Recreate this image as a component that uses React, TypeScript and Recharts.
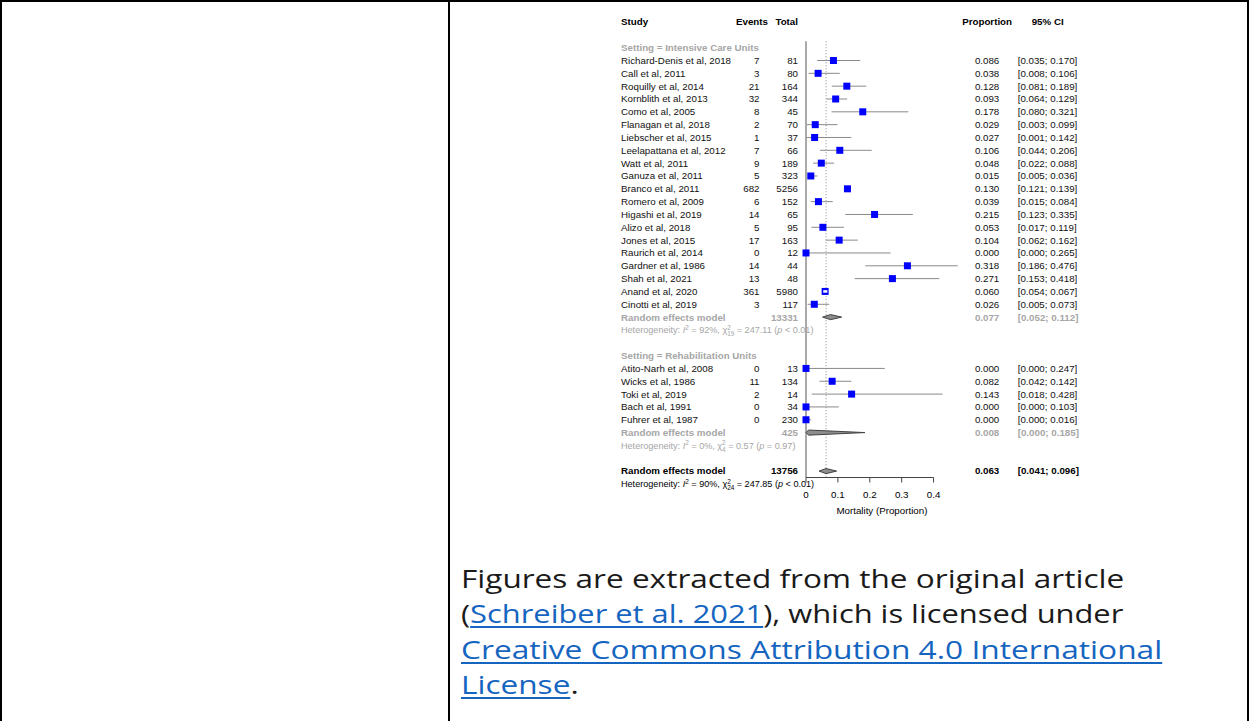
import React from "react";
import { ComposedChart, Scatter, XAxis, YAxis, ReferenceLine } from "recharts";

// ICU subgroup
const icuStudies = [
  "Richard-Denis et al, 2018", "Call et al, 2011", "Roquilly et al, 2014", "Kornblith et al, 2013",
  "Como et al, 2005", "Flanagan et al, 2018", "Liebscher et al, 2015", "Leelapattana et al, 2012",
  "Watt et al, 2011", "Ganuza et al, 2011", "Branco et al, 2011", "Romero et al, 2009",
  "Higashi et al, 2019", "Alizo et al, 2018", "Jones et al, 2015", "Raurich et al, 2014",
  "Gardner et al, 1986", "Shah et al, 2021", "Anand et al, 2020", "Cinotti et al, 2019",
];
const icuEvents = [7, 3, 21, 32, 8, 2, 1, 7, 9, 5, 682, 6, 14, 5, 17, 0, 14, 13, 361, 3];
const icuTotals = [81, 80, 164, 344, 45, 70, 37, 66, 189, 323, 5256, 152, 65, 95, 163, 12, 44, 48, 5980, 117];
const icuProportion = [0.086, 0.038, 0.128, 0.093, 0.178, 0.029, 0.027, 0.106, 0.048, 0.015, 0.13, 0.039, 0.215, 0.053, 0.104, 0.0, 0.318, 0.271, 0.06, 0.026];
const icuLower = [0.035, 0.008, 0.081, 0.064, 0.08, 0.003, 0.001, 0.044, 0.022, 0.005, 0.121, 0.015, 0.123, 0.017, 0.062, 0.0, 0.186, 0.153, 0.054, 0.005];
const icuUpper = [0.17, 0.106, 0.189, 0.129, 0.321, 0.099, 0.142, 0.206, 0.088, 0.036, 0.139, 0.084, 0.335, 0.119, 0.162, 0.265, 0.476, 0.418, 0.067, 0.073];

// Rehabilitation subgroup
const rehabStudies = ["Atito-Narh et al, 2008", "Wicks et al, 1986", "Toki et al, 2019", "Bach et al, 1991", "Fuhrer et al, 1987"];
const rehabEvents = [0, 11, 2, 0, 0];
const rehabTotals = [13, 134, 14, 34, 230];
const rehabProportion = [0.0, 0.082, 0.143, 0.0, 0.0];
const rehabLower = [0.0, 0.042, 0.018, 0.0, 0.0];
const rehabUpper = [0.247, 0.142, 0.428, 0.103, 0.016];

// pooled: ICU, rehab, overall
const groupNames = ["Setting = Intensive Care Units", "Setting = Rehabilitation Units"];
const pooledLabel = "Random effects model";
const pooledTotals = [13331, 425, 13756];
const pooledEstimate = [0.077, 0.008, 0.063];
const pooledLower = [0.052, 0.0, 0.041];
const pooledUpper = [0.112, 0.185, 0.096];
const hetI2 = ["92%", "0%", "90%"];
const hetDf = ["19", "4", "24"];
const hetQ = ["247.11", "0.57", "247.85"];
const hetP = ["< 0.01", "= 0.97", "< 0.01"];

const xTicks = [0, 0.1, 0.2, 0.3, 0.4];

const FONT = '"Liberation Sans", Arial, Helvetica, sans-serif';
const GREY = "#a6a6a6";
const ROW_PX = 12.83;
const SQUARE = 7;
// column anchors (svg px)
const COL = { study: 9, events: 147.5, eventsHead: 156, total: 186, prop: 387.3, propHead: 400, ci: 405.7, ciHead: 419.7 };

const groups = [
  { names: icuStudies, events: icuEvents, totals: icuTotals, prop: icuProportion, lo: icuLower, hi: icuUpper },
  { names: rehabStudies, events: rehabEvents, totals: rehabTotals, prop: rehabProportion, lo: rehabLower, hi: rehabUpper },
];

type Row = { x: number; y: number; kind: string; g: number; i: number };
type Pt = { x: number; y: number; lo: number; hi: number; inside: boolean };
const rows: Row[] = [{ x: 0, y: 0, kind: "header", g: 0, i: 0 }];
const studyPts: Pt[] = [];
const pooledRow: number[] = [];
let k = 2;
groups.forEach((grp, gi) => {
  rows.push({ x: 0, y: k, kind: "group", g: gi, i: 0 });
  k++;
  grp.names.forEach((_, j) => {
    rows.push({ x: 0, y: k, kind: "study", g: gi, i: j });
    // very narrow CI sits inside the square -> drawn white
    studyPts.push({ x: grp.prop[j], y: k, lo: grp.lo[j], hi: grp.hi[j], inside: grp.hi[j] - grp.lo[j] < 0.015 });
    k++;
  });
  rows.push({ x: 0, y: k, kind: "pooled", g: gi, i: gi });
  pooledRow.push(k);
  k += 3;
});
rows.push({ x: 0, y: k, kind: "pooled", g: 2, i: 2 });
pooledRow.push(k);

const ciLine = (p: Pt) => [
  { x: p.lo, y: p.y },
  { x: p.hi, y: p.y },
];

const diamond = (i: number) => {
  const h = 0.2;
  const y = pooledRow[i];
  return [
    { x: pooledLower[i], y },
    { x: pooledEstimate[i], y: y - h },
    { x: pooledUpper[i], y },
    { x: pooledEstimate[i], y: y + h },
    { x: pooledLower[i], y },
  ];
};

const ci = (lo: number, hi: number) => `[${lo.toFixed(3)}; ${hi.toFixed(3)}]`;

function Het({ i, y, color }: { i: number; y: number; color: string }) {
  return (
    <text x={COL.study} y={y} dy="0.35em" fontSize={9.1} fill={color} fontFamily={FONT}>
      {"Heterogeneity: "}
      <tspan fontStyle="italic">I</tspan>
      <tspan dy={-3.3} fontSize={6.4}>2</tspan>
      <tspan dy={3.3}>{` = ${hetI2[i]}, \u03C7`}</tspan>
      <tspan dy={-3.3} fontSize={6.4}>2</tspan>
      <tspan dx={-3.6} dy={6.2} fontSize={6.4}>{hetDf[i]}</tspan>
      <tspan dy={-2.9}>{` = ${hetQ[i]} (`}</tspan>
      <tspan fontStyle="italic">p</tspan>
      <tspan>{` ${hetP[i]})`}</tspan>
    </text>
  );
}

function RowText(props: any) {
  const { cy, payload } = props;
  const r: Row = payload;
  const t = { fontFamily: FONT, fontSize: 9.75, dy: "0.35em", y: cy };
  if (r.kind === "header") {
    return (
      <g fontWeight="bold">
        <text {...t} x={COL.study}>Study</text>
        <text {...t} x={COL.eventsHead} textAnchor="end">Events</text>
        <text {...t} x={COL.total} textAnchor="end">Total</text>
        <text {...t} x={COL.propHead} textAnchor="end">Proportion</text>
        <text {...t} x={COL.ciHead}>95% CI</text>
      </g>
    );
  }
  if (r.kind === "group") {
    return (
      <text {...t} x={COL.study} fontWeight="bold" fill={GREY}>{groupNames[r.g]}</text>
    );
  }
  if (r.kind === "study") {
    const grp = groups[r.g];
    const j = r.i;
    return (
      <g fill="#111">
        <text {...t} x={COL.study}>{grp.names[j]}</text>
        <text {...t} x={COL.events} textAnchor="end">{grp.events[j]}</text>
        <text {...t} x={COL.total} textAnchor="end">{grp.totals[j]}</text>
        <text {...t} x={COL.prop} textAnchor="end">{grp.prop[j].toFixed(3)}</text>
        <text {...t} x={COL.ci}>{ci(grp.lo[j], grp.hi[j])}</text>
      </g>
    );
  }
  const i = r.i;
  const color = i === 2 ? "#000" : GREY;
  return (
    <g>
      <g fontWeight="bold" fill={color}>
        <text {...t} x={COL.study}>{pooledLabel}</text>
        <text {...t} x={COL.total} textAnchor="end">{pooledTotals[i]}</text>
        <text {...t} x={COL.prop} textAnchor="end">{pooledEstimate[i].toFixed(3)}</text>
        <text {...t} x={COL.ci}>{ci(pooledLower[i], pooledUpper[i])}</text>
      </g>
      <Het i={i} y={cy + ROW_PX} color={color} />
    </g>
  );
}

const Square = (props: any) => {
  const { cx, cy } = props;
  return <rect x={cx - SQUARE / 2} y={cy - SQUARE / 2} width={SQUARE} height={SQUARE} fill="#0000ff" />;
};

const Empty = () => <g />;

function ForestPlot() {
  const yTop = 1.5;
  const yAxisRow = 35.5;
  return (
    <ComposedChart width={480} height={525} margin={{ top: 9.17, right: 134.2, bottom: 11.5, left: 194 }}>
      <XAxis
        type="number"
        dataKey="x"
        domain={[0, 0.476]}
        ticks={xTicks}
        axisLine={false}
        tickLine={{ stroke: "#444" }}
        tickSize={5}
        tickMargin={9}
        height={36}
        interval={0}
        tick={{ fontSize: 9.75, fill: "#000", fontFamily: FONT }}
        label={{ value: "Mortality (Proportion)", position: "insideBottom", offset: 0, fontSize: 9.75, fill: "#000", fontFamily: FONT }}
      />
      <YAxis type="number" dataKey="y" domain={[-1, yAxisRow]} reversed hide />
      <ReferenceLine segment={[{ x: 0, y: yAxisRow }, { x: xTicks[xTicks.length - 1], y: yAxisRow }]} stroke="#444" />
      <ReferenceLine segment={[{ x: 0, y: yTop }, { x: 0, y: yAxisRow }]} stroke="#555" />
      <ReferenceLine
        segment={[{ x: pooledEstimate[2], y: yTop }, { x: pooledEstimate[2], y: yAxisRow }]}
        stroke="#888"
        strokeDasharray="1 2"
      />
      <Scatter data={rows} shape={RowText} isAnimationActive={false} />
      {studyPts.map((p, i) => (
        <Scatter
          key={`ci${i}`}
          data={ciLine(p)}
          shape={Empty}
          line={{ stroke: "#8a8a8a", strokeWidth: 1 }}
          isAnimationActive={false}
        />
      ))}
      <Scatter data={studyPts} shape={Square} isAnimationActive={false} />
      {studyPts.filter((p) => p.inside).map((p, i) => (
        <Scatter
          key={`in${i}`}
          data={ciLine(p)}
          shape={Empty}
          line={{ stroke: "#ffffff", strokeWidth: 2.5 }}
          isAnimationActive={false}
        />
      ))}
      {[0, 1, 2].map((i) => (
        <Scatter
          key={`d${i}`}
          data={diamond(i)}
          shape={Empty}
          line={{ stroke: "#444", fill: "#8c8c8c", strokeWidth: 1 }}
          isAnimationActive={false}
        />
      ))}
    </ComposedChart>
  );
}

const link: React.CSSProperties = {
  color: "#1565c0",
  textDecoration: "underline",
  textDecorationThickness: 2,
  textUnderlineOffset: 3,
};

const line = (sx: number): React.CSSProperties => ({
  height: 35.3,
  transform: `scaleX(${sx})`,
  transformOrigin: "0 0",
});

export default function App() {
  return (
    <div style={{ position: "absolute", left: 0, top: 0, width: 1250, height: 721, overflow: "hidden", background: "#fff" }}>
      <div style={{ position: "absolute", left: 0, top: 0, width: 1249, height: 2, background: "#000" }} />
      <div style={{ position: "absolute", left: 0, top: 0, width: 2, height: 721, background: "#000" }} />
      <div style={{ position: "absolute", left: 448, top: 0, width: 2, height: 721, background: "#000" }} />
      <div style={{ position: "absolute", left: 1247, top: 0, width: 2, height: 721, background: "#000" }} />
      <div style={{ position: "absolute", left: 612, top: 0 }}>
        <ForestPlot />
      </div>
      <div
        style={{
          position: "absolute",
          left: 461,
          top: 561,
          fontFamily: '"Open Sans", sans-serif',
          fontSize: 25,
          lineHeight: "35.3px",
          color: "#1a1a1a",
          whiteSpace: "nowrap",
        }}
      >
        <div style={line(1.262)}>Figures are extracted from the original article</div>
        <div style={line(1.234)}>
          (<a href="#" style={link}>Schreiber et al. 2021</a>), which is licensed under
        </div>
        <div style={line(1.268)}>
          <a href="#" style={link}>Creative Commons Attribution 4.0 International</a>
        </div>
        <div style={line(1.262)}>
          <a href="#" style={link}>License</a>.
        </div>
      </div>
    </div>
  );
}
